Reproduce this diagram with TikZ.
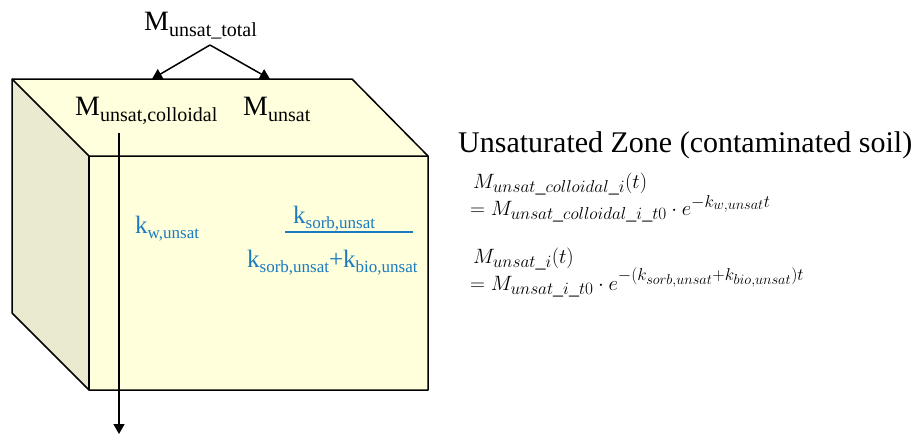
\documentclass[tikz,border=0pt]{standalone}
\usepackage{fontspec}
\setmainfont{Liberation Serif}
\usetikzlibrary{arrows.meta}
\DeclareMathSizes{20}{20}{18}{14}
\definecolor{topface}{HTML}{FFFFDD}
\definecolor{frontface}{HTML}{FFFFDC}
\definecolor{sideface}{HTML}{EAEAD0}
\definecolor{kblue}{HTML}{1B7BC0}
\newcommand{\lblM}[2]{{\fontsize{28pt}{32pt}\selectfont #1}{\fontsize{20pt}{22pt}\selectfont\raisebox{-6.5pt}{#2}}}
\newcommand{\lblK}[2]{{\fontsize{25pt}{30pt}\selectfont #1}{\fontsize{17pt}{20pt}\selectfont\raisebox{-5pt}{#2}}}
\tikzset{
  face/.style={draw=black, line width=1.5pt, line join=round},
  arr/.style={line width=1.5pt, -{Triangle[length=10pt,width=11pt]}},
  txt/.style={inner sep=0pt, anchor=base west},
  eq/.style={inner sep=0pt, anchor=base west, font=\fontsize{20pt}{24pt}\selectfont},
}
\begin{document}
\begin{tikzpicture}[x=1pt,y=-1pt]
\useasboundingbox (0,0) rectangle (915,434);
% box faces
\fill[topface] (12,79) -- (352,79) -- (428,156) -- (89,156) -- cycle;
\fill[sideface] (12,79) -- (89,156) -- (89,390) -- (12,313) -- cycle;
\fill[frontface] (89,156) rectangle (428,390);
\draw[face] (12,313) -- (12,79) -- (352,79) -- (428,156) -- (428,390) -- (89,390) -- (12,313);
\draw[face] (12,79) -- (89,156) -- (428,156);
\draw[face] (89,156) -- (89,390);
% top label
\node[txt] (tot) at (144,30) {\lblM{M}{unsat\_total}};
\coordinate (apex) at (210,45);
\coordinate (tl) at (152,79);
\coordinate (tr) at (270,79);
\draw[arr] (apex) -- (tl);
\draw[arr] (apex) -- (tr);
% labels on top
\node[txt] (mcol) at (75,115) {\lblM{M}{unsat,colloidal}};
\node[txt] (mun) at (243,115) {\lblM{M}{unsat}};
% vertical arrow
\coordinate (vs) at (119,133);
\coordinate (ve) at (119,434);
\draw[arr] (vs) -- (ve);
% blue labels
\node[txt, text=kblue] (kw) at (135,233) {\lblK{k}{w,unsat}};
\node[txt, text=kblue] (num) at (293,223) {\lblK{k}{sorb,unsat}};
\coordinate (fl) at (285,232);
\coordinate (fr) at (413,232);
\draw[kblue, line width=1.5pt] (fl) -- (fr);
\node[txt, text=kblue] (den) at (247,267) {\lblK{k}{sorb,unsat}{\fontsize{25pt}{30pt}\selectfont+}\lblK{k}{bio,unsat}};
% title
\node[txt, font=\fontsize{30pt}{34pt}\selectfont] (title) at (458,152) {Unsaturated Zone (contaminated soil)};
% equations
\node[eq] (e1) at (473,188) {$M_{unsat\_colloidal\_i}(t)$};
\node[eq] (e2) at (470,215) {$= M_{unsat\_colloidal\_i\_t0}\cdot e^{-k_{w,unsat}t}$};
\node[eq] (e3) at (473,263) {$M_{unsat\_i}(t)$};
\node[eq] (e4) at (470,290) {$= M_{unsat\_i\_t0}\cdot e^{-(k_{sorb,unsat}+k_{bio,unsat})t}$};
\end{tikzpicture}
\end{document}
